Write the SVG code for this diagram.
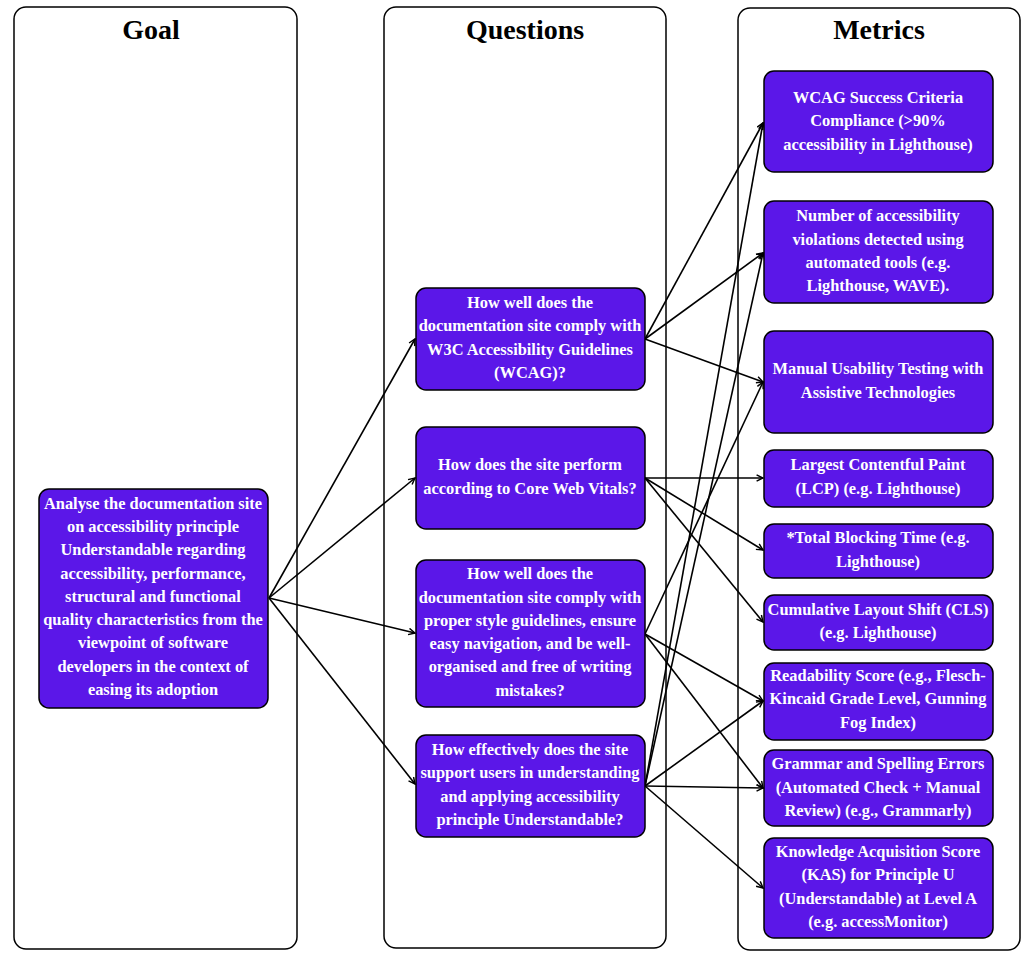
<svg xmlns="http://www.w3.org/2000/svg" width="1033" height="960" viewBox="0 0 1033 960">
<defs>
<style>
.panel{fill:#fff;stroke:#000;stroke-width:1.5}
.title{font-family:"Liberation Serif","Times New Roman",serif;font-weight:bold;font-size:28px;fill:#000;text-anchor:middle}
.node rect{fill:#5b17e8;stroke:#000;stroke-width:1.5}
.node text{font-family:"Liberation Serif","Times New Roman",serif;font-weight:bold;font-size:16.4px;fill:#fff;text-anchor:middle}
.edge{fill:none;stroke:#000;stroke-width:1.6;marker-end:url(#arr)}
</style>
<marker id="arr" viewBox="0 0 10 10" refX="9" refY="5" markerWidth="8" markerHeight="8" markerUnits="userSpaceOnUse" orient="auto">
<path d="M1,1 L9,5 L1,9" fill="none" stroke="#000" stroke-width="1.8"/>
</marker>
</defs>
<rect width="1033" height="960" fill="#fff"/>
<g id="panels">
<rect class="panel" x="14" y="7" width="283" height="942" rx="12"/>
<text class="title" x="151" y="39">Goal</text>
<rect class="panel" x="384" y="7" width="282" height="941" rx="12"/>
<text class="title" x="525" y="39">Questions</text>
<rect class="panel" x="738" y="8" width="282" height="942" rx="12"/>
<text class="title" x="879" y="39">Metrics</text>
</g>
<g id="connectors">
<line class="edge" x1="269" y1="598" x2="415" y2="339"/>
<line class="edge" x1="269" y1="598" x2="415" y2="478"/>
<line class="edge" x1="269" y1="598" x2="415" y2="633"/>
<line class="edge" x1="269" y1="598" x2="415" y2="784"/>
<line class="edge" x1="645" y1="339" x2="763" y2="123"/>
<line class="edge" x1="645" y1="339" x2="763" y2="253"/>
<line class="edge" x1="645" y1="339" x2="763" y2="382"/>
<line class="edge" x1="645" y1="478" x2="763" y2="478"/>
<line class="edge" x1="645" y1="478" x2="763" y2="550"/>
<line class="edge" x1="645" y1="478" x2="763" y2="622"/>
<line class="edge" x1="645" y1="634" x2="763" y2="382"/>
<line class="edge" x1="645" y1="634" x2="763" y2="701"/>
<line class="edge" x1="645" y1="634" x2="763" y2="788"/>
<line class="edge" x1="645" y1="786" x2="763" y2="123"/>
<line class="edge" x1="645" y1="786" x2="763" y2="253"/>
<line class="edge" x1="645" y1="786" x2="763" y2="701"/>
<line class="edge" x1="645" y1="786" x2="763" y2="788"/>
<line class="edge" x1="645" y1="786" x2="763" y2="888"/>
</g>
<g id="goal" class="node">
<rect x="39" y="489" width="229" height="219" rx="10"/>
<text x="153" y="509">Analyse the documentation site</text>
<text x="153" y="532">on accessibility principle</text>
<text x="153" y="555">Understandable regarding</text>
<text x="153" y="579">accessibility, performance,</text>
<text x="153" y="602">structural and functional</text>
<text x="153" y="625">quality characteristics from the</text>
<text x="153" y="648">viewpoint of software</text>
<text x="153" y="672">developers in the context of</text>
<text x="153" y="695">easing its adoption</text>
</g>
<g id="q1" class="node">
<rect x="416" y="288" width="229" height="102" rx="10"/>
<text x="530" y="308">How well does the</text>
<text x="530" y="331">documentation site comply with</text>
<text x="530" y="355">W3C Accessibility Guidelines</text>
<text x="530" y="378">(WCAG)?</text>
</g>
<g id="q2" class="node">
<rect x="416" y="427" width="229" height="102" rx="10"/>
<text x="530" y="470">How does the site perform</text>
<text x="530" y="494">according to Core Web Vitals?</text>
</g>
<g id="q3" class="node">
<rect x="416" y="560" width="229" height="147" rx="10"/>
<text x="530" y="579">How well does the</text>
<text x="530" y="603">documentation site comply with</text>
<text x="530" y="626">proper style guidelines, ensure</text>
<text x="530" y="649">easy navigation, and be well-</text>
<text x="530" y="672">organised and free of writing</text>
<text x="530" y="696">mistakes?</text>
</g>
<g id="q4" class="node">
<rect x="416" y="735" width="229" height="102" rx="10"/>
<text x="530" y="755">How effectively does the site</text>
<text x="530" y="778">support users in understanding</text>
<text x="530" y="802">and applying accessibility</text>
<text x="530" y="825">principle Understandable?</text>
</g>
<g id="m1" class="node">
<rect x="764" y="71" width="229" height="101" rx="10"/>
<text x="878" y="103">WCAG Success Criteria</text>
<text x="878" y="126">Compliance (&gt;90%</text>
<text x="878" y="150">accessibility in Lighthouse)</text>
</g>
<g id="m2" class="node">
<rect x="764" y="201" width="229" height="102" rx="10"/>
<text x="878" y="221">Number of accessibility</text>
<text x="878" y="245">violations detected using</text>
<text x="878" y="268">automated tools (e.g.</text>
<text x="878" y="291">Lighthouse, WAVE).</text>
</g>
<g id="m3" class="node">
<rect x="764" y="331" width="229" height="102" rx="10"/>
<text x="878" y="374">Manual Usability Testing with</text>
<text x="878" y="398">Assistive Technologies</text>
</g>
<g id="m4" class="node">
<rect x="764" y="450" width="229" height="57" rx="10"/>
<text x="878" y="470">Largest Contentful Paint</text>
<text x="878" y="494">(LCP) (e.g. Lighthouse)</text>
</g>
<g id="m5" class="node">
<rect x="764" y="524" width="229" height="54" rx="10"/>
<text x="878" y="543">*Total Blocking Time (e.g.</text>
<text x="878" y="567">Lighthouse)</text>
</g>
<g id="m6" class="node">
<rect x="764" y="595" width="229" height="55" rx="10"/>
<text x="878" y="615">Cumulative Layout Shift (CLS)</text>
<text x="878" y="638">(e.g. Lighthouse)</text>
</g>
<g id="m7" class="node">
<rect x="764" y="663" width="229" height="77" rx="10"/>
<text x="878" y="681">Readability Score (e.g., Flesch-</text>
<text x="878" y="704">Kincaid Grade Level, Gunning</text>
<text x="878" y="728">Fog Index)</text>
</g>
<g id="m8" class="node">
<rect x="764" y="750" width="229" height="76" rx="10"/>
<text x="878" y="769">Grammar and Spelling Errors</text>
<text x="878" y="793">(Automated Check + Manual</text>
<text x="878" y="816">Review) (e.g., Grammarly)</text>
</g>
<g id="m9" class="node">
<rect x="764" y="838" width="229" height="100" rx="10"/>
<text x="878" y="857">Knowledge Acquisition Score</text>
<text x="878" y="880">(KAS) for Principle U</text>
<text x="878" y="904">(Understandable) at Level A</text>
<text x="878" y="927">(e.g. accessMonitor)</text>
</g>
</svg>
